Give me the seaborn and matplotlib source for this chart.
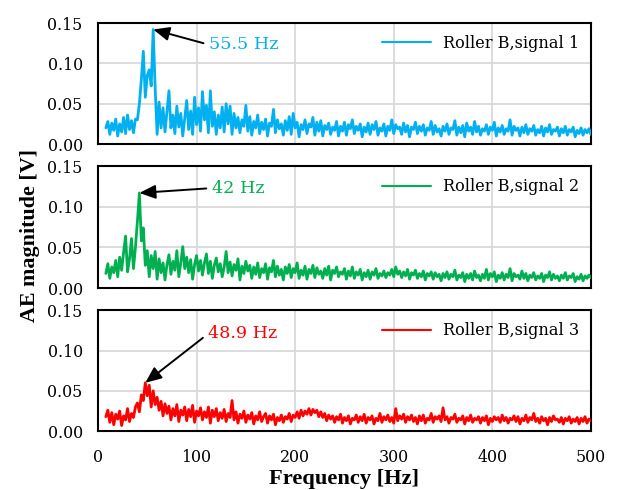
import numpy as np
import pandas as pd
import seaborn as sns
import matplotlib
matplotlib.use("Agg")
import matplotlib.pyplot as plt

# ---------------- data ----------------
freq = list(range(8, 501, 2))  # Hz

signal_1 = [
    0.020, 0.028, 0.012, 0.026, 0.017, 0.031, 0.010, 0.025, 0.015, 0.033,
    0.013, 0.036, 0.018, 0.029, 0.014, 0.031, 0.030, 0.050, 0.080, 0.115,
    0.058, 0.085, 0.092, 0.072, 0.142, 0.070, 0.012, 0.052, 0.020, 0.045,
    0.015, 0.040, 0.066, 0.020, 0.036, 0.013, 0.047, 0.021, 0.038, 0.010,
    0.032, 0.054, 0.018, 0.041, 0.012, 0.058, 0.024, 0.045, 0.016, 0.065,
    0.030, 0.048, 0.014, 0.066, 0.022, 0.040, 0.012, 0.036, 0.020, 0.046,
    0.015, 0.050, 0.025, 0.047, 0.012, 0.038, 0.020, 0.033, 0.014, 0.030,
    0.022, 0.048, 0.016, 0.034, 0.011, 0.028, 0.020, 0.036, 0.013, 0.027,
    0.018, 0.031, 0.010, 0.026, 0.022, 0.043, 0.014, 0.030, 0.019, 0.025,
    0.011, 0.029, 0.017, 0.034, 0.012, 0.038, 0.020, 0.027, 0.009, 0.024,
    0.018, 0.030, 0.013, 0.025, 0.021, 0.033, 0.011, 0.027, 0.016, 0.029,
    0.010, 0.023, 0.018, 0.026, 0.012, 0.021, 0.017, 0.028, 0.010, 0.022,
    0.016, 0.027, 0.011, 0.024, 0.019, 0.030, 0.013, 0.022, 0.017, 0.025,
    0.009, 0.021, 0.015, 0.026, 0.012, 0.024, 0.018, 0.028, 0.011, 0.020,
    0.016, 0.025, 0.010, 0.022, 0.017, 0.030, 0.013, 0.024, 0.019, 0.021,
    0.012, 0.026, 0.015, 0.023, 0.009, 0.021, 0.018, 0.027, 0.013, 0.022,
    0.016, 0.024, 0.011, 0.020, 0.017, 0.028, 0.012, 0.023, 0.015, 0.019,
    0.010, 0.022, 0.016, 0.025, 0.012, 0.020, 0.018, 0.029, 0.011, 0.021,
    0.014, 0.023, 0.009, 0.026, 0.016, 0.021, 0.012, 0.028, 0.015, 0.022,
    0.011, 0.019, 0.016, 0.024, 0.012, 0.021, 0.017, 0.027, 0.010, 0.020,
    0.015, 0.023, 0.012, 0.019, 0.016, 0.030, 0.011, 0.022, 0.017, 0.020,
    0.010, 0.021, 0.014, 0.024, 0.012, 0.019, 0.016, 0.023, 0.011, 0.018,
    0.014, 0.022, 0.010, 0.020, 0.015, 0.024, 0.012, 0.018, 0.016, 0.021,
    0.010, 0.019, 0.014, 0.022, 0.011, 0.018, 0.015, 0.021, 0.009, 0.017,
    0.013, 0.020, 0.011, 0.018, 0.014, 0.019, 0.012,
]

signal_2 = [
    0.018, 0.030, 0.012, 0.026, 0.019, 0.034, 0.014, 0.038, 0.022, 0.044,
    0.064, 0.020, 0.036, 0.061, 0.024, 0.050, 0.082, 0.117, 0.058, 0.074,
    0.028, 0.046, 0.014, 0.040, 0.024, 0.045, 0.011, 0.036, 0.019, 0.031,
    0.010, 0.029, 0.041, 0.017, 0.033, 0.022, 0.046, 0.014, 0.031, 0.051,
    0.024, 0.038, 0.019, 0.035, 0.011, 0.029, 0.040, 0.021, 0.034, 0.016,
    0.031, 0.042, 0.018, 0.033, 0.012, 0.028, 0.037, 0.020, 0.030, 0.014,
    0.026, 0.045, 0.019, 0.032, 0.015, 0.029, 0.022, 0.036, 0.010, 0.027,
    0.018, 0.033, 0.021, 0.028, 0.012, 0.026, 0.017, 0.031, 0.013, 0.024,
    0.019, 0.030, 0.011, 0.025, 0.020, 0.034, 0.014, 0.027, 0.016, 0.023,
    0.010, 0.026, 0.018, 0.029, 0.013, 0.024, 0.019, 0.031, 0.012, 0.022,
    0.016, 0.027, 0.011, 0.023, 0.018, 0.028, 0.013, 0.025, 0.017, 0.021,
    0.012, 0.024, 0.016, 0.027, 0.010, 0.022, 0.018, 0.026, 0.014, 0.020,
    0.017, 0.024, 0.011, 0.021, 0.015, 0.026, 0.012, 0.020, 0.016, 0.023,
    0.010, 0.019, 0.014, 0.022, 0.011, 0.020, 0.016, 0.024, 0.012, 0.018,
    0.015, 0.021, 0.013, 0.019, 0.016, 0.023, 0.014, 0.026, 0.017, 0.021,
    0.013, 0.020, 0.015, 0.023, 0.011, 0.019, 0.016, 0.022, 0.012, 0.018,
    0.014, 0.021, 0.010, 0.018, 0.015, 0.020, 0.011, 0.019, 0.014, 0.017,
    0.009, 0.018, 0.013, 0.020, 0.011, 0.017, 0.014, 0.022, 0.010, 0.016,
    0.013, 0.019, 0.008, 0.017, 0.012, 0.018, 0.010, 0.021, 0.013, 0.016,
    0.009, 0.017, 0.012, 0.023, 0.010, 0.018, 0.014, 0.020, 0.008, 0.016,
    0.012, 0.019, 0.010, 0.017, 0.013, 0.024, 0.009, 0.018, 0.014, 0.016,
    0.011, 0.021, 0.012, 0.018, 0.009, 0.016, 0.013, 0.019, 0.010, 0.015,
    0.012, 0.018, 0.008, 0.016, 0.013, 0.020, 0.010, 0.017, 0.012, 0.015,
    0.009, 0.016, 0.012, 0.019, 0.010, 0.015, 0.013, 0.018, 0.008, 0.014,
    0.011, 0.017, 0.009, 0.015, 0.012, 0.016, 0.013,
]

signal_3 = [
    0.018, 0.026, 0.011, 0.023, 0.008, 0.021, 0.015, 0.025, 0.007, 0.019,
    0.014, 0.028, 0.012, 0.022, 0.017, 0.030, 0.035, 0.024, 0.045, 0.038,
    0.060, 0.044, 0.057, 0.030, 0.050, 0.033, 0.042, 0.026, 0.037, 0.019,
    0.034, 0.022, 0.031, 0.014, 0.028, 0.019, 0.033, 0.012, 0.026, 0.020,
    0.030, 0.013, 0.027, 0.018, 0.032, 0.011, 0.025, 0.019, 0.029, 0.014,
    0.024, 0.017, 0.030, 0.010, 0.026, 0.018, 0.028, 0.013, 0.023, 0.016,
    0.027, 0.012, 0.022, 0.017, 0.038, 0.014, 0.024, 0.010, 0.021, 0.016,
    0.025, 0.011, 0.020, 0.015, 0.023, 0.009, 0.019, 0.014, 0.024, 0.012,
    0.018, 0.022, 0.010, 0.019, 0.014, 0.021, 0.008, 0.017, 0.013, 0.020,
    0.011, 0.018, 0.015, 0.022, 0.012, 0.020, 0.017, 0.024, 0.016, 0.026,
    0.019, 0.025, 0.021, 0.028, 0.020, 0.027, 0.023, 0.026, 0.018, 0.024,
    0.017, 0.022, 0.013, 0.020, 0.015, 0.019, 0.011, 0.018, 0.014, 0.021,
    0.010, 0.017, 0.013, 0.019, 0.009, 0.016, 0.014, 0.020, 0.011, 0.018,
    0.013, 0.021, 0.010, 0.017, 0.014, 0.019, 0.009, 0.016, 0.013, 0.022,
    0.011, 0.018, 0.014, 0.020, 0.012, 0.017, 0.010, 0.028, 0.013, 0.019,
    0.015, 0.021, 0.011, 0.018, 0.014, 0.020, 0.012, 0.017, 0.009, 0.019,
    0.013, 0.020, 0.010, 0.016, 0.014, 0.022, 0.011, 0.018, 0.015, 0.019,
    0.012, 0.029, 0.014, 0.018, 0.010, 0.017, 0.015, 0.021, 0.011, 0.016,
    0.014, 0.019, 0.009, 0.017, 0.013, 0.020, 0.011, 0.016, 0.014, 0.018,
    0.010, 0.017, 0.013, 0.019, 0.008, 0.016, 0.012, 0.018, 0.014, 0.017,
    0.011, 0.020, 0.013, 0.017, 0.010, 0.016, 0.014, 0.019, 0.012, 0.018,
    0.009, 0.016, 0.013, 0.020, 0.011, 0.017, 0.014, 0.022, 0.012, 0.016,
    0.010, 0.018, 0.013, 0.016, 0.008, 0.017, 0.012, 0.019, 0.014, 0.015,
    0.011, 0.017, 0.009, 0.016, 0.013, 0.018, 0.010, 0.015, 0.012, 0.017,
    0.009, 0.016, 0.012, 0.018, 0.010, 0.015, 0.013,
]

series_labels = ["Roller B,signal 1", "Roller B,signal 2", "Roller B,signal 3"]
peak_labels = ["55.5 Hz", "42 Hz", "48.9 Hz"]
peak_freqs = [56, 42, 48]
peak_values = [0.142, 0.117, 0.060]
x_ticks = [0, 100, 200, 300, 400, 500]
y_ticks = [0.00, 0.05, 0.10, 0.15]

# ---------------- style ----------------
sns.set_style("white")
plt.rcParams["font.family"] = ["DejaVu Serif"]
plt.rcParams["axes.unicode_minus"] = False
plt.rcParams["text.color"] = "black"
plt.rcParams["xtick.color"] = "black"
plt.rcParams["ytick.color"] = "black"
plt.rcParams["axes.labelcolor"] = "black"

colors = ["#00B0F0", "#00B050", "#FF0000"]
signals = [signal_1, signal_2, signal_3]

fig = plt.figure(figsize=(6.24, 4.90), dpi=100)
positions = [
    [0.157, 0.706, 0.790, 0.247],
    [0.157, 0.412, 0.790, 0.249],
    [0.157, 0.120, 0.790, 0.247],
]
text_pos = [(113, 0.123), (116, 0.123), (112, 0.121)]

axes = []
for i in range(3):
    ax = fig.add_axes(positions[i])
    axes.append(ax)
    df = pd.DataFrame({"Frequency": freq, "AE": signals[i]})
    sns.lineplot(data=df, x="Frequency", y="AE", ax=ax, color=colors[i],
                 lw=2.0, label=series_labels[i], zorder=3)
    ax.set_xlim(0, 500)
    ax.set_ylim(0, 0.15)
    ax.set_xticks(x_ticks)
    ax.set_yticks(y_ticks)
    ax.set_yticklabels([f"{v:.2f}" for v in y_ticks])
    ax.grid(True, color="#D9D9D9", lw=1.3, zorder=0)
    ax.set_axisbelow(True)
    for s in ax.spines.values():
        s.set_color("black")
        s.set_linewidth(1.5)
    ax.tick_params(axis="both", length=0, labelsize=11.4, labelcolor="black")
    ax.tick_params(axis="y", pad=11)
    ax.tick_params(axis="x", pad=13)
    ax.set_xlabel("")
    ax.set_ylabel("")
    if i < 2:
        ax.set_xticklabels([])
    leg = ax.legend(loc="upper right", frameon=False, fontsize=11.6,
                    handlelength=3.0, handletextpad=0.75,
                    borderaxespad=0.35, labelcolor="black")
    for line in leg.get_lines():
        line.set_linewidth(1.5)
    ax.annotate(peak_labels[i], xy=(peak_freqs[i], peak_values[i]),
                xytext=text_pos[i], textcoords="data",
                color=colors[i], fontsize=12.6, va="center", ha="left",
                arrowprops=dict(arrowstyle="-|>,head_length=0.7,head_width=0.3",
                                color="black", lw=1.4,
                                mutation_scale=14, shrinkA=2, shrinkB=0,
                                relpos=(0, 0.5)))

axes[2].set_xlabel("Frequency [Hz]", fontsize=16.2, fontweight="bold",
                   family="Liberation Serif", labelpad=2, color="black")
fig.text(0.048, 0.52, "AE magnitude [V]", rotation=90, fontsize=15.8,
         fontweight="bold", family="Liberation Serif", color="black",
         ha="center", va="center")

fig.savefig("out.png", dpi=100)
